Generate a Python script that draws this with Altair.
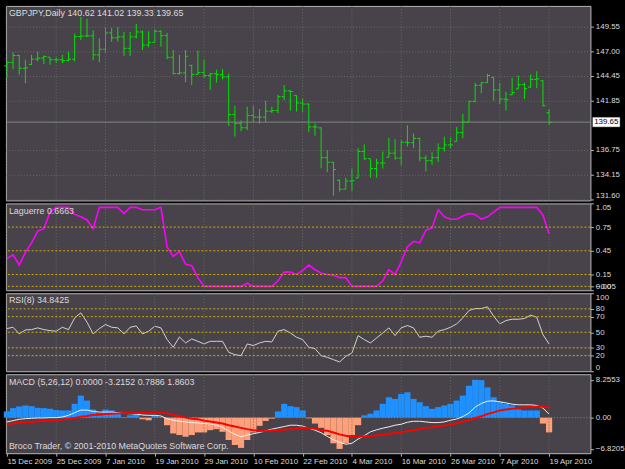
import json
import altair as alt
import pandas as pd

# ---------------- data ----------------
date_labels = ["15 Dec 2009", "25 Dec 2009", "7 Jan 2010", "19 Jan 2010", "29 Jan 2010",
               "10 Feb 2010", "22 Feb 2010", "4 Mar 2010", "16 Mar 2010", "26 Mar 2010",
               "7 Apr 2010", "19 Apr 2010"]
tick_index = [0, 8, 16, 24, 32, 40, 48, 56, 64, 72, 80, 88]

open_ = [145.50, 145.86, 146.58, 145.25, 145.65, 146.20, 146.31, 146.40, 146.14, 146.14,
         146.07, 146.20, 148.55, 148.60, 148.62, 146.65, 147.23, 148.93, 148.42, 148.52,
         147.33, 148.52, 149.03, 147.67, 147.95, 149.10, 148.65, 146.40, 144.70, 144.77,
         145.55, 144.62, 144.80, 144.50, 144.68, 144.60, 144.35, 140.45, 139.52, 139.06,
         140.34, 140.17, 140.17, 140.79, 140.85, 142.29, 142.90, 142.40, 141.64, 141.53,
         139.15, 139.05, 135.95, 135.47, 133.60, 132.67, 133.52, 133.85, 136.59, 135.84,
         134.82, 135.40, 136.00, 136.42, 135.91, 137.55, 137.51, 137.96, 135.91, 135.64,
         135.95, 136.93, 137.27, 137.65, 138.57, 139.66, 141.81, 143.48, 143.75, 144.30,
         143.00, 142.05, 142.50, 143.10, 143.55, 143.30, 144.09, 143.95, 140.62]
high = [145.97, 146.89, 146.65, 146.14, 146.65, 146.99, 146.58, 146.41, 146.37, 146.65,
        146.99, 148.86, 150.57, 150.40, 149.20, 148.35, 149.48, 149.48, 149.54, 149.03,
        149.03, 149.88, 149.20, 149.10, 149.34, 149.20, 148.95, 147.16, 146.65, 147.16,
        145.63, 147.10, 146.14, 144.77, 145.11, 145.20, 144.70, 141.37, 139.83, 141.26,
        141.37, 141.02, 141.88, 141.26, 142.49, 143.51, 142.95, 142.45, 142.11, 141.60,
        139.49, 139.10, 136.72, 135.50, 133.70, 133.87, 134.82, 136.95, 137.34, 135.84,
        135.84, 136.59, 138.02, 137.89, 137.75, 139.32, 138.47, 138.02, 136.20, 136.50,
        137.44, 138.13, 138.02, 139.15, 140.51, 141.88, 143.75, 143.82, 144.67, 144.36,
        143.75, 142.80, 144.26, 144.50, 143.75, 144.60, 144.94, 144.02, 141.02]
low = [144.26, 145.18, 144.60, 143.68, 145.62, 145.97, 145.69, 145.62, 145.80, 145.80,
       145.97, 145.97, 148.18, 148.52, 146.07, 145.86, 146.89, 148.01, 148.01, 146.54,
       146.54, 148.35, 147.16, 147.43, 147.95, 147.50, 146.20, 144.60, 144.60, 143.80,
       143.50, 144.55, 144.20, 143.00, 143.75, 144.10, 139.25, 138.15, 138.70, 138.81,
       139.66, 139.49, 139.66, 140.58, 140.58, 141.94, 140.85, 140.75, 140.68, 138.64,
       138.23, 134.85, 134.45, 131.99, 132.43, 132.67, 132.45, 133.80, 135.74, 133.87,
       133.87, 134.82, 135.98, 135.74, 135.16, 137.10, 136.93, 135.57, 134.50, 135.20,
       135.50, 136.59, 136.93, 137.62, 137.96, 139.66, 141.71, 142.66, 143.75, 141.88,
       141.53, 140.85, 142.46, 143.07, 142.05, 143.24, 143.17, 141.30, 139.33]
close = [145.86, 146.58, 145.25, 145.30, 146.20, 146.31, 146.48, 146.14, 146.14, 146.07,
         146.20, 148.55, 148.60, 148.62, 146.65, 147.23, 148.93, 148.42, 148.52, 147.33,
         148.52, 149.03, 147.67, 147.95, 149.10, 148.65, 146.40, 144.70, 144.77, 146.50,
         144.62, 144.80, 144.50, 144.68, 144.60, 144.35, 140.45, 139.52, 139.06, 140.34,
         140.17, 140.17, 140.79, 140.85, 142.29, 142.90, 142.83, 141.64, 141.53, 139.15,
         139.15, 135.95, 135.47, 134.72, 132.67, 133.52, 133.55, 136.59, 135.84, 134.82,
         135.40, 135.40, 136.42, 135.91, 137.55, 137.51, 137.96, 135.91, 135.64, 135.95,
         136.93, 137.27, 137.27, 138.57, 139.66, 141.81, 143.48, 143.75, 144.50, 143.00,
         142.05, 141.98, 142.73, 143.55, 143.14, 144.09, 144.16, 141.35, 139.65]

laguerre = [0.35, 0.40, 0.27, 0.43, 0.55, 0.70, 0.73, 0.94, 1.0, 1.0,
            1.0, 0.91, 0.88, 0.84, 0.73, 1.0, 1.0, 1.0, 1.0, 0.92,
            1.0, 1.0, 0.97, 0.97, 0.97, 1.0, 0.50, 0.38, 0.44, 0.28,
            0.26, 0.11, 0.0, 0.0, 0.0, 0.0, 0.0, 0.0, 0.0, 0.04,
            0.0, 0.0, 0.0, 0.0, 0.07, 0.18, 0.18, 0.15, 0.20, 0.27,
            0.21, 0.17, 0.15, 0.14, 0.11, 0.11, 0.0, 0.0, 0.0, 0.0,
            0.0, 0.07, 0.21, 0.15, 0.31, 0.50, 0.57, 0.55, 0.71, 0.74,
            0.97, 0.88, 0.85, 0.85, 0.89, 0.92, 0.91, 0.85, 0.88, 0.94,
            1.0, 1.0, 1.0, 1.0, 1.0, 1.0, 1.0, 0.90, 0.6663]

rsi = [54.7, 56.4, 47.9, 53.0, 53.4, 55.6, 53.4, 52.1, 51.3, 56.4,
       53.4, 68.4, 74.9, 62.9, 47.9, 54.7, 59.9, 56.4, 55.6, 47.9,
       56.4, 58.1, 47.9, 51.3, 57.7, 55.6, 40.6, 30.7, 44.0, 36.3,
       41.4, 38.4, 35.0, 38.4, 38.4, 38.4, 24.3, 21.3, 20.0, 35.0,
       32.9, 36.3, 38.4, 37.6, 51.3, 53.4, 49.1, 43.6, 40.6, 30.7,
       29.0, 20.0, 17.9, 14.9, 11.9, 19.1, 23.4, 45.7, 40.6, 36.3,
       42.7, 49.1, 55.6, 45.7, 55.6, 58.6, 55.6, 43.6, 44.9, 43.6,
       51.3, 53.4, 56.4, 60.7, 68.4, 77.9, 80.4, 80.4, 82.6, 70.6,
       60.7, 65.0, 66.7, 66.7, 67.6, 71.9, 69.3, 47.0, 34.8425]

macd_hist = [1.36, 2.08, 2.44, 2.66, 2.51, 2.15, 2.08, 1.94, 1.65, 1.58,
             1.58, 3.02, 4.81, 3.73, 1.79, 0.86, 1.79, 1.58, 1.22, -0.07,
             0.50, 1.22, -0.36, -0.57, 0.36, 0.14, -1.65, -3.45, -3.80, -4.16,
             -3.80, -3.23, -3.23, -2.73, -2.51, -3.09, -4.88, -5.96, -6.60, -4.88,
             -3.23, -1.79, -0.72, -0.22, 1.36, 3.02, 2.51, 2.30, 1.58, -0.15,
             -1.29, -2.23, -3.80, -5.60, -6.8205, -5.60, -3.80, -1.65, 0.50, 0.86,
             1.58, 3.02, 4.45, 4.09, 5.17, 5.53, 4.09, 3.37, 2.51, 1.94,
             2.30, 2.66, 3.02, 3.73, 4.81, 6.96, 8.2553, 8.20, 6.60, 4.45,
             3.37, 3.02, 2.66, 1.79, 1.58, 1.58, 1.58, -1.29, -3.2152]

macd_white = [-0.93, -0.65, -0.36, -0.22, -0.14, -0.07, -0.07, 0.0, 0.0, 0.14,
              0.50, 1.08, 1.65, 1.65, 1.36, 1.22, 1.22, 1.22, 1.08, 0.93,
              0.86, 0.79, 0.57, 0.50, 0.50, 0.36, -0.22, -0.57, -0.79, -0.93,
              -1.08, -1.15, -1.29, -1.36, -1.65, -2.08, -2.94, -3.66, -4.16, -3.80,
              -3.52, -3.23, -2.87, -2.51, -2.23, -1.94, -1.65, -1.65, -1.85, -2.30,
              -2.73, -3.30, -4.09, -4.81, -5.38, -5.81, -5.60, -4.67, -3.95, -3.09,
              -2.66, -2.30, -2.01, -1.65, -1.44, -1.00, -0.79, -0.79, -0.93, -1.08,
              -1.08, -0.93, -0.57, -0.29, 0.22, 1.00, 2.30, 3.09, 3.59, 3.66,
              3.45, 3.23, 2.94, 2.80, 2.80, 2.80, 2.66, 2.08, 0.7886]

macd_red = [-1.44, -1.29, -1.08, -1.00, -0.93, -0.79, -0.72, -0.65, -0.57, -0.43,
            -0.22, -0.07, 0.22, 0.36, 0.57, 0.65, 0.79, 0.86, 0.93, 1.00,
            1.00, 1.00, 1.08, 1.08, 1.08, 1.08, 0.93, 0.57, 0.29, 0.0,
            -0.22, -0.36, -0.65, -0.86, -1.08, -1.29, -1.65, -1.94, -2.23, -2.51,
            -2.73, -2.87, -2.94, -2.80, -2.73, -2.58, -2.51, -2.37, -2.20, -2.25,
            -2.37, -2.73, -2.87, -3.23, -3.66, -3.95, -4.16, -4.16, -4.09, -4.02,
            -3.88, -3.73, -3.59, -3.37, -3.16, -2.94, -2.73, -2.44, -2.23, -2.08,
            -1.87, -1.72, -1.51, -1.22, -0.86, -0.50, -0.07, 0.29, 0.79, 1.15,
            1.58, 1.79, 1.94, 2.08, 2.23, 2.30, 2.37, 2.44, 2.20]

price_ticks = [131.60, 134.15, 136.75, 141.85, 144.45, 147.00, 149.55]
lag_ticks = [-0.05, 0.0, 0.15, 0.45, 0.75, 1.05]
lag_levels = [0.0, 0.15, 0.45, 0.75]
rsi_ticks = [0, 20, 30, 50, 70, 80, 100]
rsi_levels = [20, 30, 50, 70, 80]
macd_ticks = [-6.8205, 0.0, 8.2553]
last_price = [139.65]

main_title = "GBPJPY,Daily  140.62 141.02 139.33 139.65"
lag_title = "Laguerre 0.6663"
rsi_title = "RSI(8) 34.8425"
macd_title = "MACD  (5,26,12) 0.0000 -3.2152 0.7886 1.8603"
copy_text = "Broco Trader, \u00a9 2001-2010 MetaQuotes Software Corp."

# ---------------- style ----------------
FONT = "Liberation Sans"
FS = 9        # panel captions
FS_AX = 8     # right-hand scale labels
FS_X = 8      # date labels
PANEL = "#48424a"
BORDER = "#b8b8b8"
GRID = "#62705f"
GREEN = "#00e600"
YEL = "#d4b000"
LBL = "#dcdcdc"
W = 592

n = len(close)
df = pd.DataFrame({
    "i": list(range(n)), "open": open_, "high": high, "low": low, "close": close,
    "lag": laguerre, "rsi": rsi, "hist": macd_hist, "mw": macd_white, "mr": macd_red,
})

xs = alt.Scale(domain=[-0.16, 94.71], nice=False, zero=False)
base = alt.Chart(df)


def yaxis(values, **kw):
    opts = dict(orient="right", values=values, title=None, domain=False, grid=False,
                tickSize=3, tickColor=BORDER, labelColor=LBL, labelFont=FONT,
                labelFontSize=FS_AX, labelPadding=2, labelOverlap=False)
    opts.update(kw)
    return alt.Axis(**opts)


def vgrid(axis=None):
    return alt.Chart(pd.DataFrame({"i": tick_index})).mark_rule(
        color=GRID, strokeDash=[1, 2], strokeWidth=1
    ).encode(x=alt.X("i:Q", scale=xs, axis=axis))


def label(text, yv):
    return alt.Chart(pd.DataFrame({"s": [text]})).mark_text(
        align="left", baseline="middle", color=LBL, font=FONT, fontSize=FS
    ).encode(x=alt.value(3), y=alt.value(yv), text="s:N")


# ---------------- main price panel ----------------
yprice = alt.Scale(domain=[131.50, 151.74], nice=False, zero=False)
AX_P = yaxis(price_ticks, format=".2f", grid=True, gridColor=GRID, gridDash=[1, 2],
             labelFlush=3)
hl = base.mark_rule(color=GREEN, strokeWidth=1).encode(
    x=alt.X("i:Q", scale=xs, axis=None),
    y=alt.Y("low:Q", scale=yprice, axis=AX_P),
    y2="high:Q",
)
op = base.transform_calculate(a="datum.i - 0.42").mark_rule(color=GREEN).encode(
    x=alt.X("a:Q", scale=xs, axis=None), x2="i:Q",
    y=alt.Y("open:Q", scale=yprice, axis=AX_P),
)
cl = base.transform_calculate(b="datum.i + 0.42").mark_rule(color=GREEN).encode(
    x=alt.X("i:Q", scale=xs, axis=None), x2="b:Q",
    y=alt.Y("close:Q", scale=yprice, axis=AX_P),
)
lp = alt.Chart(pd.DataFrame({"p": last_price}))
pline = lp.mark_rule(color="#7e8a7e", strokeWidth=1).encode(
    y=alt.Y("p:Q", scale=yprice, axis=AX_P))
pbox = lp.mark_point(
    shape="M-1,-0.36L1,-0.36L1,0.36L-1,0.36Z", size=28 * 28, filled=True,
    fill="#ffffff", stroke="#202020", strokeWidth=0.5, opacity=1,
).encode(x=alt.value(W + 16), y=alt.Y("p:Q", scale=yprice, axis=AX_P))
ptext = lp.mark_text(color="#000000", font=FONT, fontSize=FS_AX, align="center",
                     baseline="middle").encode(
    x=alt.value(W + 16), y=alt.Y("p:Q", scale=yprice, axis=AX_P),
    text=alt.Text("p:Q", format=".2f"))

main = alt.layer(hl, vgrid(), pline, op, cl, pbox, ptext, label(main_title, 7)).properties(
    width=W, height=197)

# ---------------- Laguerre ----------------
ylag = alt.Scale(domain=[-0.05, 1.05], nice=False, zero=False)
AX_L = yaxis(lag_ticks, format=".2f", labelFlush=True)
lag_lv = alt.Chart(pd.DataFrame({"v": lag_levels})).mark_rule(
    color=YEL, strokeDash=[2, 2]).encode(y=alt.Y("v:Q", scale=ylag, axis=AX_L))
lag_line = base.mark_line(color="#ff00ff", strokeWidth=1.6).encode(
    x=alt.X("i:Q", scale=xs, axis=None),
    y=alt.Y("lag:Q", scale=ylag, axis=AX_L),
)
lag_panel = alt.layer(lag_line, vgrid(), lag_lv, label(lag_title, 8)).properties(
    width=W, height=88)

# ---------------- RSI ----------------
yrsi = alt.Scale(domain=[0, 100], nice=False, zero=False)
AX_R = yaxis(rsi_ticks, labelFlush=True)
rsi_lv = alt.Chart(pd.DataFrame({"v": rsi_levels})).mark_rule(
    color=YEL, strokeDash=[2, 2]).encode(y=alt.Y("v:Q", scale=yrsi, axis=AX_R))
rsi_line = base.mark_line(color="#d4d4d4", strokeWidth=1).encode(
    x=alt.X("i:Q", scale=xs, axis=None),
    y=alt.Y("rsi:Q", scale=yrsi, axis=AX_R),
)
rsi_panel = alt.layer(rsi_line, vgrid(), rsi_lv, label(rsi_title, 7)).properties(
    width=W, height=79)

# ---------------- MACD ----------------
ymacd = alt.Scale(domain=[-7.76, 9.48], nice=False, zero=False)
AX_X = alt.Axis(
    values=tick_index,
    labelExpr=json.dumps(date_labels) + "[round(datum.value / 8)]",
    labelAlign="left", labelBaseline="top", labelPadding=1, tickSize=3,
    tickColor=BORDER, domain=False, grid=False, labelColor=LBL, labelFont=FONT,
    labelFontSize=FS_X, labelFlush=False, labelOverlap=False, labelBound=False, title=None,
)
AX_M = yaxis(macd_ticks,
             labelExpr="datum.value == 0 ? '0.00' : format(datum.value, '.4f')")
hist = base.transform_calculate(
    xa="datum.i - 0.5", xb="datum.i + 0.5", z="0"
).mark_rect().encode(
    x=alt.X("xa:Q", scale=xs, axis=AX_X), x2="xb:Q",
    y=alt.Y("hist:Q", scale=ymacd, axis=AX_M),
    y2="z:Q",
    color=alt.condition("datum.hist >= 0", alt.value("#1e90ff"), alt.value("#ffa07a")),
)
zero = alt.Chart(pd.DataFrame({"v": [0.0]})).mark_rule(
    color="#8a8a8a", strokeDash=[1, 2]).encode(y=alt.Y("v:Q", scale=ymacd, axis=AX_M))
wline = base.mark_line(color="#f0f0f0", strokeWidth=1).encode(
    x=alt.X("i:Q", scale=xs, axis=AX_X), y=alt.Y("mw:Q", scale=ymacd, axis=AX_M))
rline = base.mark_line(color="#ff0000", strokeWidth=2).encode(
    x=alt.X("i:Q", scale=xs, axis=AX_X), y=alt.Y("mr:Q", scale=ymacd, axis=AX_M))
macd_panel = alt.layer(
    hist, vgrid(AX_X), zero, wline, rline, label(macd_title, 8), label(copy_text, 73)
).properties(width=W, height=80)

chart = alt.vconcat(
    main, lag_panel, rsi_panel, macd_panel, spacing=3, bounds="flush"
).configure_view(
    fill=PANEL, stroke=BORDER, strokeWidth=1
).properties(
    background="#000000",
    padding={"left": 2, "top": 2, "right": 0, "bottom": 0},
)

chart.save("out.html", embed_options={"renderer": "svg", "actions": False})
